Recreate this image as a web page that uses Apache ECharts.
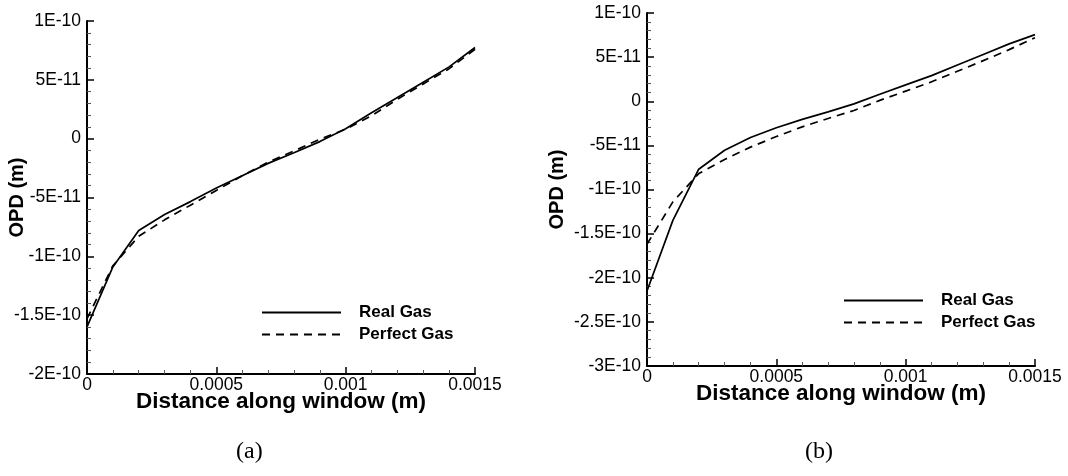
<!DOCTYPE html>
<html>
<head>
<meta charset="utf-8">
<script src="https://cdn.jsdelivr.net/npm/echarts@6/dist/echarts.min.js"></script>
<style>
html,body{margin:0;padding:0;background:#fff;}
#c{width:1068px;height:476px;}
</style>
</head>
<body>
<div id="c"></div>
<script>
// Distance along window (m)
const distance = [0, 0.0001, 0.0002, 0.0003, 0.0004, 0.0005, 0.0006, 0.0007, 0.0008, 0.0009, 0.001, 0.0011, 0.0012, 0.0013, 0.0014, 0.0015];
// OPD values in units of 1E-11 m
const realGasA    = [-16.0, -10.9, -7.8, -6.45, -5.35, -4.2, -3.15, -2.1, -1.2, -0.25, 0.85, 2.2, 3.5, 4.8, 6.1, 7.75];
const perfectGasA = [-15.3, -10.8, -8.3, -6.9, -5.65, -4.4, -3.15, -2.0, -1.05, -0.05, 0.8, 1.95, 3.35, 4.65, 5.95, 7.6];
const realGasB    = [-21.5, -13.5, -7.7, -5.55, -4.1, -3.0, -2.05, -1.2, -0.3, 0.8, 1.85, 2.9, 4.1, 5.3, 6.5, 7.55];
const perfectGasB = [-16.2, -11.4, -8.2, -6.6, -5.2, -4.0, -2.9, -1.95, -1.05, 0.1, 1.15, 2.2, 3.4, 4.6, 5.85, 7.2];
const xTicks = {min: 0, max: 0.0015, interval: 0.0005};
const yTicksA = {min: -20, max: 10, interval: 5};
const yTicksB = {min: -30, max: 10, interval: 5};
const seriesNames = ['Real Gas', 'Perfect Gas'];
const captions = ['(a)', '(b)'];
const xName = 'Distance along window (m)';
const yName = 'OPD (m)';

const pairs = (ys) => distance.map((x, i) => [x, ys[i]]);
const yFmt = (v) => {
  if (Math.abs(v) < 1e-9) return '0';
  const x = Number((v * 1e-11).toPrecision(2));
  return x.toExponential().replace('e', 'E');
};
const FONT = 'Liberation Sans, Arial, sans-serif';

function xAxis(gi) {
  return {
    gridIndex: gi, type: 'value', min: xTicks.min, max: xTicks.max, interval: xTicks.interval,
    name: xName, nameLocation: 'middle', nameGap: 16, nameMoveOverlap: false,
    nameTextStyle: {fontFamily: FONT, fontWeight: 'bold', fontSize: 22.5, color: '#000'},
    axisLine: {show: true, onZero: false, lineStyle: {color: '#000', width: 2}},
    axisTick: {show: true, inside: true, length: 7, lineStyle: {color: '#000', width: 1.5}},
    minorTick: {show: true, splitNumber: 5, length: 4, lineStyle: {color: '#555', width: 1}},
    splitLine: {show: false},
    axisLabel: {fontFamily: FONT, fontSize: 17.5, color: '#000', margin: 2}
  };
}
function yAxis(gi, t, gap) {
  return {
    gridIndex: gi, type: 'value', min: t.min, max: t.max, interval: t.interval,
    name: yName, nameLocation: 'middle', nameGap: gap, nameRotate: 90, nameMoveOverlap: false,
    nameTextStyle: {fontFamily: FONT, fontWeight: 'bold', fontSize: 20, color: '#000'},
    axisLine: {show: true, onZero: false, lineStyle: {color: '#000', width: 2}},
    axisTick: {show: true, inside: true, length: 7, lineStyle: {color: '#000', width: 1.5}},
    minorTick: {show: true, splitNumber: 5, length: 4, lineStyle: {color: '#555', width: 1}},
    splitLine: {show: false},
    axisLabel: {fontFamily: FONT, fontSize: 17.5, color: '#000', margin: 6, formatter: yFmt}
  };
}
function line(name, gi, ys, dashed) {
  return {
    name: name, type: 'line', xAxisIndex: gi, yAxisIndex: gi, data: pairs(ys),
    symbol: 'none', animation: false, silent: true,
    lineStyle: {color: '#000', width: 1.7, type: dashed ? [8, 6] : 'solid'},
    itemStyle: {color: '#000'}
  };
}
function legend(left, top) {
  return {
    data: seriesNames, orient: 'vertical', left: left, top: top, padding: 0,
    itemWidth: 79, itemHeight: 14, itemGap: 5, selectedMode: false,
    itemStyle: {color: 'rgba(0,0,0,0)', borderColor: 'rgba(0,0,0,0)', borderWidth: 0, opacity: 0},
    textStyle: {fontFamily: FONT, fontWeight: 'bold', fontSize: 17, color: '#000', padding: [0, 0, 0, 13], lineHeight: 14}
  };
}

const chart = echarts.init(document.getElementById('c'), null, {renderer: 'canvas'});
chart.setOption({
  backgroundColor: '#fff',
  animation: false,
  grid: [
    {left: 87, top: 21, width: 388, bottom: 102, containLabel: false, outerBoundsMode: 'none'},
    {left: 647, top: 13, width: 388, bottom: 110, containLabel: false, outerBoundsMode: 'none'}
  ],
  xAxis: [xAxis(0), xAxis(1)],
  yAxis: [yAxis(0, yTicksA, 60), yAxis(1, yTicksB, 80)],
  legend: [legend(261, 304), legend(843, 292)],
  series: [
    line(seriesNames[0], 0, realGasA, false),
    line(seriesNames[1], 0, perfectGasA, true),
    line(seriesNames[0], 1, realGasB, false),
    line(seriesNames[1], 1, perfectGasB, true)
  ],
  graphic: [
    {type: 'text', left: 236, top: 440, style: {text: captions[0], font: '24px "Liberation Serif", "DejaVu Serif", serif', fill: '#000'}},
    {type: 'text', left: 805, top: 440, style: {text: captions[1], font: '24px "Liberation Serif", "DejaVu Serif", serif', fill: '#000'}}
  ]
});
</script>
</body>
</html>
